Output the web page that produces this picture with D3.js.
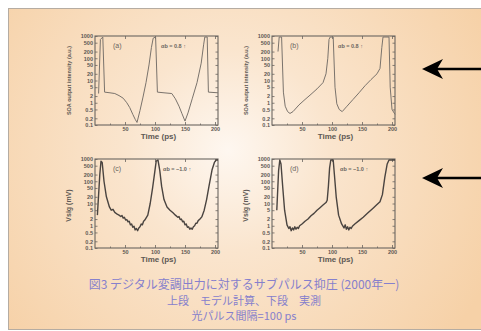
<!DOCTYPE html>
<html>
<head>
<meta charset="utf-8">
<script src="https://cdn.jsdelivr.net/npm/d3@7"></script>
<style>
  html, body { margin: 0; padding: 0; background: #fff; }
  svg { display: block; }
</style>
</head>
<body>
<div id="chart"></div>
<script>
// ---- data (time in ps, intensity on a log axis) ----
const yTicks = [0.1, 0.2, 0.5, 1, 2, 5, 10, 20, 50, 100, 200, 500, 1000];
const yTickLabels = ['0.1', '0.2', '0.5', '1', '2', '5', '10', '20', '50', '100', '200', '500', '1000'];
const xTicks = [50, 100, 150, 200];
const xMinorTicks = [25, 75, 125, 175];

// (a) model
const aTime = [6, 9, 13, 16, 25, 33, 40, 47, 53, 58, 63, 67, 70, 75, 80, 85, 90, 94, 97, 101, 104, 115, 128, 134, 140, 145, 150, 155, 162, 170, 177, 181, 183, 187, 189, 205];
const aValue = [2.6, 700, 900, 3, 2.8, 2.6, 2.1, 1.6, 1.0, 0.6, 0.3, 0.18, 0.13, 0.45, 1.8, 8, 50, 300, 800, 900, 3, 2.8, 2.6, 1.5, 0.7, 0.32, 0.15, 0.35, 1.5, 8, 60, 400, 900, 900, 3, 2.8];

// (b) model
const bTime = [10, 12, 16, 19, 22, 26, 30, 35, 45, 55, 65, 75, 85, 90, 93, 95, 97, 102, 105, 108, 112, 117, 125, 135, 145, 155, 165, 175, 180, 183, 185, 195, 197, 200, 205];
const bValue = [200, 900, 900, 3, 0.7, 0.4, 0.33, 0.4, 0.8, 1.4, 2.4, 4.2, 8, 20, 100, 700, 900, 900, 5, 0.9, 0.5, 0.4, 0.7, 1.4, 2.8, 5.8, 11, 20, 35, 300, 900, 900, 5, 0.5, 0.3];

// (c) measured
const cTime = [4, 8, 10, 12, 15, 19, 24, 27, 30, 33, 37, 40, 43, 45, 47, 49, 51, 53, 55, 57, 59, 61, 63, 65, 67, 69, 71, 73, 75, 77, 79, 81, 83, 85, 88, 92, 96, 99, 102, 105, 108, 111, 115, 120, 125, 130, 134, 138, 140, 142, 144, 146, 148, 150, 152, 154, 156, 158, 160, 162, 164, 166, 168, 170, 172, 175, 178, 182, 186, 190, 195, 199, 202, 205];
const cValue = [3, 200, 800, 700, 100, 20, 7, 5, 5.5, 4, 3.3, 3, 2.6, 2.9, 2.2, 2.4, 1.8, 1.9, 1.5, 1.6, 1.1, 1.2, 0.85, 0.95, 0.65, 0.75, 0.6, 0.8, 0.9, 1.2, 1.1, 1.6, 1.8, 2.2, 3, 10, 50, 200, 800, 900, 300, 60, 15, 7, 5, 3.8, 3, 2.4, 2.6, 1.9, 2.0, 1.5, 1.6, 1.1, 1.2, 0.85, 0.9, 0.7, 0.8, 0.7, 0.9, 1.0, 1.3, 1.3, 1.7, 2.0, 2.5, 5, 15, 60, 320, 700, 900, 900];

// (d) measured
const dTime = [8, 11, 13, 15, 18, 21, 25, 28, 30, 32, 34, 36, 38, 40, 42, 44, 46, 50, 55, 60, 65, 70, 75, 80, 85, 90, 92, 94, 96, 98, 102, 104, 107, 111, 116, 120, 122, 124, 126, 128, 130, 132, 134, 138, 145, 152, 160, 168, 175, 180, 184, 188, 192, 195, 205];
const dValue = [5, 300, 900, 600, 50, 5, 1.1, 0.75, 0.9, 0.6, 0.8, 0.65, 0.9, 0.7, 0.85, 0.75, 1.0, 1.2, 1.6, 2.0, 2.8, 3.6, 5, 6.5, 8.5, 11, 14, 60, 400, 900, 900, 200, 20, 3, 1.2, 0.8, 1.1, 0.7, 0.9, 0.65, 0.85, 0.75, 0.95, 1.2, 1.7, 2.4, 3.8, 6, 9, 12, 25, 150, 600, 900, 900];

const panelNames = ['(a)', '(b)', '(c)', '(d)'];
const alphaLabels = ['αb = 0.8 ↑', 'αb = 0.8 ↑', 'αb = −1.0 ↑', 'αb = −1.0 ↑'];
const yTitles = ['SOA output intensity (a.u.)', 'SOA output intensity (a.u.)', 'Vsig (mV)', 'Vsig (mV)'];
const captionLines = ['図3  デジタル変調出力に対するサブパルス抑圧 (2000年一)', '上段　モデル計算、下段　実測', '光パルス間隔=100 ps'];

const W = 481, H = 331;
const svg = d3.select('#chart').append('svg').attr('width', W).attr('height', H);

const defs = svg.append('defs');
const grad = defs.append('radialGradient').attr('id', 'bg')
  .attr('cx', 228).attr('cy', 150).attr('r', 290).attr('gradientUnits', 'userSpaceOnUse');
grad.append('stop').attr('offset', '0%').attr('stop-color', '#fef7f0');
grad.append('stop').attr('offset', '35%').attr('stop-color', '#fae5ce');
grad.append('stop').attr('offset', '100%').attr('stop-color', '#f6d1a7');

svg.append('rect').attr('x', 8.5).attr('y', 8.5).attr('width', 480).attr('height', 321)
  .attr('fill', 'url(#bg)').attr('stroke', '#b5aca2').attr('stroke-width', 1);

const panels = [
  { left: 95, top: 36, time: aTime, value: aValue, measured: false },
  { left: 272, top: 36, time: bTime, value: bValue, measured: false },
  { left: 95, top: 159, time: cTime, value: cValue, measured: true },
  { left: 272, top: 159, time: dTime, value: dValue, measured: true }
];
const pw = 123, ph = 89;
const axisColor = '#6a6560';

panels.forEach((p, i) => {
  const g = svg.append('g').attr('transform', `translate(${p.left},${p.top})`);
  const x = d3.scaleLinear().domain([0, 205]).range([0, pw]);
  const y = d3.scaleLog().domain([0.1, 1000]).range([ph, 0]);

  const yAxis = d3.axisLeft(y).tickValues(yTicks)
    .tickFormat((d, k) => yTickLabels[k]).tickSize(-2.5).tickPadding(2);
  const yAxisR = d3.axisRight(y).tickValues(yTicks).tickFormat('').tickSize(-2.5);
  const xAxis = d3.axisBottom(x).tickValues(xTicks).tickSize(-3).tickPadding(2);
  const xAxisT = d3.axisTop(x).tickValues(xTicks).tickFormat('').tickSize(-3);
  const xMinor = d3.axisBottom(x).tickValues(xMinorTicks).tickFormat('').tickSize(-1.5);

  g.append('g').call(yAxis);
  g.append('g').attr('transform', `translate(${pw},0)`).call(yAxisR);
  g.append('g').attr('transform', `translate(0,${ph})`).call(xAxis);
  g.append('g').attr('transform', `translate(0,${ph})`).call(xMinor);
  g.append('g').call(xAxisT);

  g.selectAll('.domain').remove();
  g.selectAll('.tick line').attr('stroke', axisColor).attr('stroke-width', 0.8);
  g.selectAll('.tick text').attr('fill', '#5d5853')
    .style('font-family', 'Liberation Sans, Arial, sans-serif').style('font-size', '5.5px').style('font-weight', 'bold');

  g.append('rect').attr('width', pw).attr('height', ph)
    .attr('fill', 'none').attr('stroke', axisColor).attr('stroke-width', 1.1);

  const line = d3.line().x((d, k) => x(p.time[k])).y(d => y(d));
  g.append('path').datum(p.value).attr('d', line)
    .attr('fill', 'none')
    .attr('stroke', p.measured ? '#4a4440' : '#7a736c')
    .attr('stroke-width', p.measured ? 1.4 : 1.0)
    .attr('stroke-linejoin', 'round');

  g.append('text').attr('x', 18).attr('y', 12).text(panelNames[i])
    .attr('fill', '#6a6560').style('font-family', 'Liberation Sans, Arial, sans-serif')
    .style('font-size', '7px');
  g.append('text').attr('x', p.measured ? 68 : 66).attr('y', 12).text(alphaLabels[i])
    .attr('fill', '#6a6560').style('font-family', 'Liberation Sans, Arial, sans-serif')
    .style('font-size', '5.5px').style('font-weight', 'bold');

  g.append('text').attr('x', pw / 2 + 2).attr('y', ph + 14).attr('text-anchor', 'middle')
    .text('Time (ps)').attr('fill', '#5d5853')
    .style('font-family', 'Liberation Sans, Arial, sans-serif').style('font-size', '8px').style('font-weight', 'bold');

  g.append('text')
    .attr('transform', `translate(-24,${p.measured ? ph / 2 + 2 : ph / 2}) rotate(-90)`)
    .attr('text-anchor', 'middle').text(yTitles[i]).attr('fill', '#5d5853')
    .style('font-family', 'Liberation Sans, Arial, sans-serif')
    .style('font-size', p.measured ? '7px' : '5.5px').style('font-weight', 'bold');
});

// caption
const capY = [289, 305, 320];
captionLines.forEach((t, i) => {
  svg.append('text').attr('x', 244).attr('y', capY[i]).attr('text-anchor', 'middle')
    .text(t).attr('fill', '#8680cc')
    .style('font-family', 'Noto Sans CJK JP, sans-serif')
    .style('font-size', i === 0 ? '12px' : '11px');
});

// arrows pointing at the two rows
[69, 178].forEach(ay => {
  svg.append('line').attr('x1', 436).attr('x2', 481).attr('y1', ay).attr('y2', ay)
    .attr('stroke', '#000').attr('stroke-width', 2.4);
  svg.append('path')
    .attr('d', `M422,${ay} L443,${ay - 10} L437,${ay} L443,${ay + 10} Z`)
    .attr('fill', '#000');
});
</script>
</body>
</html>
